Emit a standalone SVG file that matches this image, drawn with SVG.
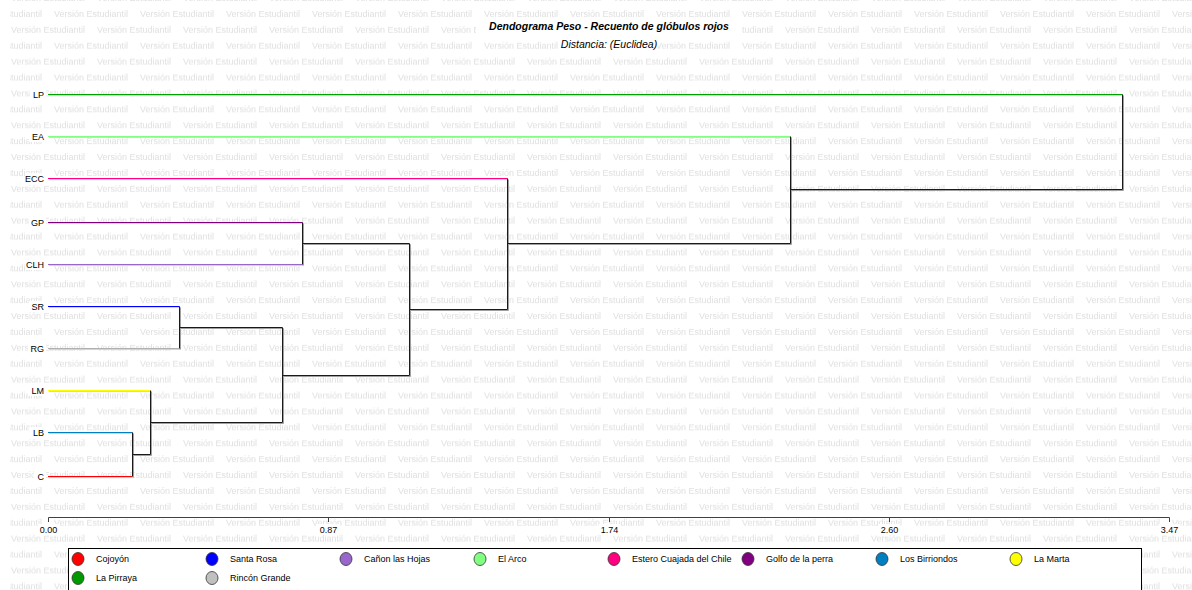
<svg xmlns="http://www.w3.org/2000/svg" width="1192" height="590" viewBox="0 0 1192 590">
<defs>
<pattern id="wm" patternUnits="userSpaceOnUse" x="5" y="5" width="86" height="31.8">
<text class="wmt" x="49" y="12">Versión Estudiantil</text>
<text class="wmt" x="-37" y="12">Versión Estudiantil</text>
<text class="wmt" x="6" y="27.9">Versión Estudiantil</text>
</pattern>
<style>
.wmt{font-family:"Liberation Sans",Arial,sans-serif;font-size:9px;fill:#e0e0e0}
.lbl{font-family:"Liberation Sans",Arial,sans-serif;font-size:9px;fill:#000}
.leaf{text-anchor:end}
.ax{text-anchor:middle}
.ttl{font-family:"Liberation Sans",Arial,sans-serif;font-size:10.5px;font-weight:bold;font-style:italic;text-anchor:middle}
.sub{font-family:"Liberation Sans",Arial,sans-serif;font-size:10.5px;font-style:italic;text-anchor:middle}
.sh{fill:none;stroke:#a0a0a0;stroke-width:1}
.shl{fill:none;stroke:#d4d4d4;stroke-width:1}
.ln{fill:none;stroke-width:1}
.blk{stroke:#1a1a1a}
.bg{fill:#fff}
.dot{stroke:#333;stroke-width:0.8}
</style>
</defs>
<rect width="1192" height="590" fill="#fff"/>
<rect x="10" width="1182" height="590" fill="url(#wm)"/>

<g id="title">
<rect class="bg" x="476" y="20" width="266" height="13"/>
<text class="ttl" x="609" y="30">Dendograma Peso - Recuento de glóbulos rojos</text>
<rect class="bg" x="560" y="38" width="98" height="13"/>
<text class="sub" x="609" y="48">Distancia: (Euclidea)</text>
</g>

<g id="connectors">
<g transform="translate(1,1)" class="shl">
<path d="M48 94.5H1122.5M48 136.5H790.5M48 178.5H507.5M48 222.5H302.5M48 264.5H302.5M48 306.5H179.5M48 348.5H179.5M48 390.5H150.5M48 432.5H132.5M48 476.5H132.5"/>
</g>
<g transform="translate(1,1)" class="sh">
<path d="M1122.5 94.5V189.5M790.5 136.5V243.5M507.5 178.5V309.5M302.5 222.5V264.5M179.5 306.5V348.5M150.5 390.5V454.5M132.5 432.5V476.5"/>
<path d="M132.5 454.5H150.5M150.5 422.5H282.5M179.5 327.5H282.5V422.5M282.5 375.5H409.5M302.5 243.5H409.5V375.5M409.5 309.5H507.5M507.5 243.5H790.5M790.5 189.5H1122.5"/>
</g>
<path class="ln" stroke="#00a000" d="M48 94.5H1122.5"/>
<path class="ln" stroke="#80ff80" d="M48 136.5H790.5"/>
<path class="ln" stroke="#ff0080" d="M48 178.5H507.5"/>
<path class="ln" stroke="#800080" d="M48 222.5H302.5"/>
<path class="ln" stroke="#9966cc" d="M48 264.5H302.5"/>
<path class="ln" stroke="#0000ff" d="M48 306.5H179.5"/>
<path class="ln" stroke="#b0b0b0" d="M48 348.5H179.5"/>
<path class="ln" stroke="#ffff00" d="M48 390.5H150.5"/>
<path class="ln" stroke="#0080c0" d="M48 432.5H132.5"/>
<path class="ln" stroke="#ff0000" d="M48 476.5H132.5"/>
<path class="ln blk" d="M1122.5 94.5V189.5M790.5 136.5V243.5M507.5 178.5V309.5M302.5 222.5V264.5M179.5 306.5V348.5M150.5 390.5V454.5M132.5 432.5V476.5"/>
<path class="ln blk" d="M132.5 454.5H150.5M150.5 422.5H282.5M179.5 327.5H282.5V422.5M282.5 375.5H409.5M302.5 243.5H409.5V375.5M409.5 309.5H507.5M507.5 243.5H790.5M790.5 189.5H1122.5"/>
</g>

<g id="node-LP"><rect class="bg" x="30" y="89" width="16" height="11"/><text class="lbl leaf" x="44" y="98">LP</text></g>
<g id="node-EA"><rect class="bg" x="29" y="131" width="17" height="11"/><text class="lbl leaf" x="44" y="140">EA</text></g>
<g id="node-ECC"><rect class="bg" x="25" y="173" width="21" height="11"/><text class="lbl leaf" x="44" y="182">ECC</text></g>
<g id="node-GP"><rect class="bg" x="29" y="217" width="17" height="11"/><text class="lbl leaf" x="44" y="226">GP</text></g>
<g id="node-CLH"><rect class="bg" x="25" y="259" width="21" height="11"/><text class="lbl leaf" x="44" y="268">CLH</text></g>
<g id="node-SR"><rect class="bg" x="29" y="301" width="17" height="11"/><text class="lbl leaf" x="44" y="310">SR</text></g>
<g id="node-RG"><rect class="bg" x="28" y="343" width="18" height="11"/><text class="lbl leaf" x="44" y="352">RG</text></g>
<g id="node-LM"><rect class="bg" x="28" y="385" width="18" height="11"/><text class="lbl leaf" x="44" y="394">LM</text></g>
<g id="node-LB"><rect class="bg" x="29" y="427" width="17" height="11"/><text class="lbl leaf" x="44" y="436">LB</text></g>
<g id="node-C"><rect class="bg" x="34" y="471" width="12" height="11"/><text class="lbl leaf" x="44" y="480">C</text></g>

<g id="axis">
<path fill="none" stroke="#404040" d="M48.5 517.5H1169.5M48.5 517.5V522M328.5 517.5V522M609.5 517.5V522M889.5 517.5V522M1169.5 517.5V522"/>
<rect class="bg" x="38" y="524" width="21" height="11"/>
<text class="lbl ax" x="48.5" y="533">0.00</text>
<rect class="bg" x="318" y="524" width="21" height="11"/>
<text class="lbl ax" x="328.5" y="533">0.87</text>
<rect class="bg" x="599" y="524" width="21" height="11"/>
<text class="lbl ax" x="609.5" y="533">1.74</text>
<rect class="bg" x="879" y="524" width="21" height="11"/>
<text class="lbl ax" x="889.5" y="533">2.60</text>
<rect class="bg" x="1159" y="524" width="21" height="11"/>
<text class="lbl ax" x="1169.5" y="533">3.47</text>
</g>

<g id="legend">
<rect x="68.5" y="548.5" width="1073" height="60" fill="#fff" stroke="#000"/>
<ellipse class="dot" cx="78" cy="559" rx="6" ry="6.5" fill="#ff0000"/><text class="lbl" x="96" y="562">Cojoyón</text>
<ellipse class="dot" cx="212" cy="559" rx="6" ry="6.5" fill="#0000ff"/><text class="lbl" x="230" y="562">Santa Rosa</text>
<ellipse class="dot" cx="346" cy="559" rx="6" ry="6.5" fill="#9966cc"/><text class="lbl" x="364" y="562">Cañon las Hojas</text>
<ellipse class="dot" cx="480" cy="559" rx="6" ry="6.5" fill="#80ff80"/><text class="lbl" x="498" y="562">El Arco</text>
<ellipse class="dot" cx="614" cy="559" rx="6" ry="6.5" fill="#ff0080"/><text class="lbl" x="632" y="562">Estero Cuajada del Chile</text>
<ellipse class="dot" cx="748" cy="559" rx="6" ry="6.5" fill="#800080"/><text class="lbl" x="766" y="562">Golfo de la perra</text>
<ellipse class="dot" cx="882" cy="559" rx="6" ry="6.5" fill="#0080c0"/><text class="lbl" x="900" y="562">Los Birriondos</text>
<ellipse class="dot" cx="1016" cy="559" rx="6" ry="6.5" fill="#ffff00"/><text class="lbl" x="1034" y="562">La Marta</text>
<ellipse class="dot" cx="78" cy="578" rx="6" ry="6.5" fill="#009900"/><text class="lbl" x="96" y="581">La Pirraya</text>
<ellipse class="dot" cx="212" cy="578" rx="6" ry="6.5" fill="#c0c0c0"/><text class="lbl" x="230" y="581">Rincón Grande</text>
</g>
</svg>
